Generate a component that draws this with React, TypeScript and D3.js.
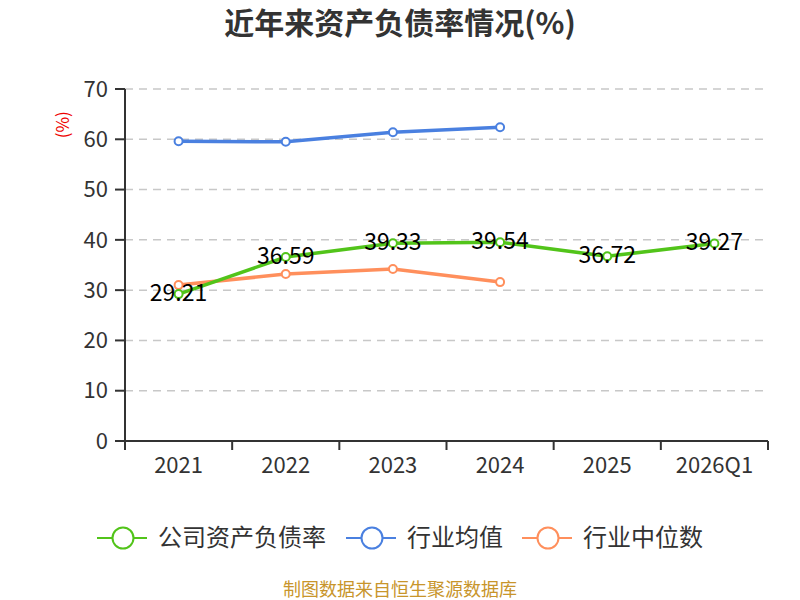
import * as d3 from "d3";
import { useMemo } from "react";

const width = 800;
const height = 600;
const marginTop = 89;
const marginRight = 32;
const marginBottom = 159;
const marginLeft = 125;

const categories = ["2021", "2022", "2023", "2024", "2025", "2026Q1"];
const companyRate = [29.21, 36.59, 39.33, 39.54, 36.72, 39.27];
const industryMean = [59.6, 59.5, 61.4, 62.4];
const industryMedian = [31.0, 33.2, 34.2, 31.6];
const yTicks = [0, 10, 20, 30, 40, 50, 60, 70];

const seriesList = [
  { name: "公司资产负债率", color: "#52c41a", values: companyRate },
  { name: "行业均值", color: "#4a80e0", values: industryMean },
  { name: "行业中位数", color: "#ff8f5c", values: industryMedian },
];

const legendX = [123, 372, 548];
const legendY = 538;

const fontFamily = "'Noto Sans CJK SC', 'Noto Sans', sans-serif";

const App = () => {
  const x = useMemo(
    () =>
      d3
        .scaleBand<string>()
        .domain(categories)
        .range([marginLeft, width - marginRight]),
    []
  );

  const y = useMemo(
    () =>
      d3
        .scaleLinear()
        .domain([0, 70])
        .range([height - marginBottom, marginTop]),
    []
  );

  const cx = (i: number) => (x(categories[i]) as number) + x.bandwidth() / 2;

  const lineBuilder = d3
    .line<number>()
    .x((_, i) => cx(i))
    .y((d) => y(d));

  const bottom = height - marginBottom;
  const boundaries = [...categories.map((c) => x(c) as number), width - marginRight];

  return (
    <svg
      width={width}
      height={height}
      viewBox={`0 0 ${width} ${height}`}
      style={{ position: "absolute", left: 0, top: 0, fontFamily }}
    >
      <rect width={width} height={height} fill="#fff" />
      <text
        x={width / 2}
        y={34}
        textAnchor="middle"
        fontSize={30}
        fontWeight="bold"
        fill="#333"
      >
        近年来资产负债率情况(%)
      </text>

      {/* grid */}
      {yTicks.slice(1).map((t) => (
        <line
          key={t}
          x1={marginLeft}
          x2={width - marginRight}
          y1={y(t)}
          y2={y(t)}
          stroke="#c8c8c8"
          strokeWidth={1.5}
          strokeDasharray="8,6"
        />
      ))}

      {/* y axis */}
      <line x1={marginLeft} x2={marginLeft} y1={marginTop} y2={bottom} stroke="#333" strokeWidth={2} />
      {yTicks.map((t) => (
        <g key={t}>
          <line x1={marginLeft - 10} x2={marginLeft} y1={y(t)} y2={y(t)} stroke="#333" strokeWidth={2} />
          <text
            x={marginLeft - 17}
            y={y(t)}
            dy="0.35em"
            textAnchor="end"
            fontSize={22}
            fill="#333"
          >
            {t}
          </text>
        </g>
      ))}
      <text
        transform={`translate(63, ${y(62.9)}) rotate(-90)`}
        textAnchor="middle"
        dy="0.35em"
        fontSize={17}
        fill="#e00"
      >
        (%)
      </text>

      {/* x axis */}
      <line x1={marginLeft} x2={width - marginRight} y1={bottom} y2={bottom} stroke="#333" strokeWidth={2} />
      {boundaries.map((b, i) => (
        <line key={i} x1={b} x2={b} y1={bottom} y2={bottom + 9} stroke="#333" strokeWidth={2} />
      ))}
      {categories.map((c, i) => (
        <text key={c} x={cx(i)} y={bottom + 32} textAnchor="middle" fontSize={22} fill="#333">
          {c}
        </text>
      ))}

      {/* series */}
      {seriesList
        .slice()
        .reverse()
        .map((s) => (
          <g key={s.name}>
            <path d={lineBuilder(s.values) as string} fill="none" stroke={s.color} strokeWidth={3.5} />
            {s.values.map((v, i) => (
              <circle key={i} cx={cx(i)} cy={y(v)} r={4} fill="#fff" stroke={s.color} strokeWidth={2} />
            ))}
          </g>
        ))}
      {companyRate.map((v, i) => (
        <text
          key={i}
          x={cx(i)}
          y={y(v)}
          dy="0.3em"
          textAnchor="middle"
          fontSize={23}
          fill="#000"
        >
          {v.toFixed(2)}
        </text>
      ))}

      {/* legend */}
      {seriesList.map((s, i) => (
        <g key={s.name}>
          <line x1={legendX[i] - 26} x2={legendX[i] + 24} y1={legendY} y2={legendY} stroke={s.color} strokeWidth={2} />
          <circle cx={legendX[i]} cy={legendY} r={10.5} fill="#fff" stroke={s.color} strokeWidth={2} />
          <text x={legendX[i] + 35} y={legendY} dy="0.35em" fontSize={24} fill="#333">
            {s.name}
          </text>
        </g>
      ))}

      <text x={width / 2} y={596} textAnchor="middle" fontSize={18} fill="#c8952b">
        制图数据来自恒生聚源数据库
      </text>
    </svg>
  );
};

export default App;
